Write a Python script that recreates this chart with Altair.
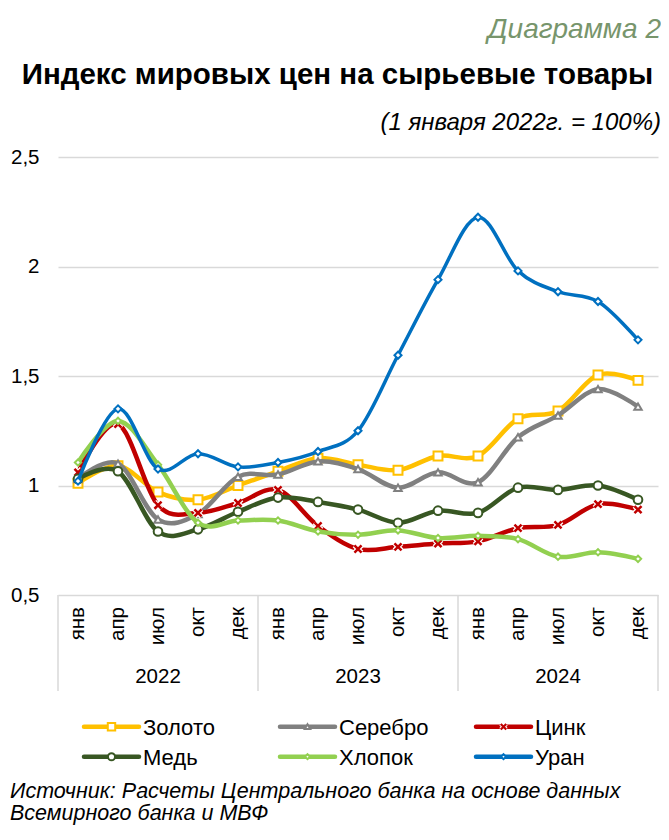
import altair as alt
import pandas as pd

months = ["янв", "апр", "июл", "окт", "дек"]
years = ["2022", "2023", "2024"]

names = ["Золото", "Серебро", "Цинк", "Медь", "Хлопок", "Уран"]
gold = [1.01, 1.09, 0.97, 0.935, 1.00, 1.065, 1.125, 1.095, 1.07, 1.135, 1.135, 1.305, 1.34, 1.505, 1.48]
silver = [1.03, 1.10, 0.845, 0.87, 1.04, 1.05, 1.11, 1.075, 0.99, 1.06, 1.015, 1.22, 1.32, 1.44, 1.36]
zinc = [1.06, 1.28, 0.91, 0.875, 0.92, 0.98, 0.815, 0.71, 0.72, 0.735, 0.745, 0.805, 0.82, 0.915, 0.89]
copper = [1.03, 1.065, 0.79, 0.80, 0.88, 0.945, 0.925, 0.89, 0.83, 0.885, 0.875, 0.99, 0.98, 1.0, 0.935]
cotton = [1.105, 1.295, 1.095, 0.83, 0.84, 0.84, 0.79, 0.775, 0.795, 0.76, 0.77, 0.755, 0.675, 0.695, 0.665]
uranium = [1.02, 1.35, 1.075, 1.145, 1.085, 1.105, 1.155, 1.25, 1.595, 1.94, 2.225, 1.98, 1.885, 1.84, 1.665]
values = [gold, silver, zinc, copper, cotton, uranium]

colors = ["#FFC000", "#808080", "#C00000", "#385723", "#92D050", "#0070C0"]
XPATH = "M-1,-1L1,1M1,-1L-1,1"
shapes = ["square", "triangle-up", XPATH, "circle", "diamond", "diamond"]
msizes = [80, 55, 50, 75, 40, 50]
lwidths = [4.5, 4.5, 4.5, 4.5, 4.5, 3.5]

FONT = "Liberation Sans"
W, H = 600, 438

labels = [f"{y}-{m}" for y in years for m in months]
n = len(labels)

xsc = alt.Scale(domain=[-0.5, n - 0.5], nice=False, zero=False)
ysc = alt.Scale(domain=[0.5, 2.5], nice=False, zero=False)
yaxis = alt.Axis(values=[0.5, 1, 1.5, 2, 2.5], labelExpr="replace(toString(datum.value), '.', ',')",
                 domain=False, ticks=False, grid=True, gridColor="#d9d9d9", gridWidth=1.5,
                 labelFontSize=20.5, labelFont=FONT, labelColor="#000000", labelPadding=19, title=None)

one = alt.Data(values=[{"a": 1}])
layers = []

# separators between years
sep_df = pd.DataFrame({"i": [k * len(months) - 0.5 for k in range(len(years) + 1)]})
layers.append(alt.Chart(sep_df).mark_rule(color="#d9d9d9", strokeWidth=1.5).encode(
    x=alt.X("i:Q", scale=xsc, axis=None), y=alt.value(H), y2=alt.value(H + 96)))

# series
for k, nm in enumerate(names):
    df = pd.DataFrame({"i": list(range(n)), "v": values[k], "s": nm})
    base = alt.Chart(df).encode(
        x=alt.X("i:Q", scale=xsc, axis=None),
        y=alt.Y("v:Q", scale=ysc, axis=yaxis),
    )
    layers.append(base.mark_line(color=colors[k], strokeWidth=lwidths[k], interpolate="cardinal", tension=0))
    if shapes[k] == XPATH:
        layers.append(base.mark_point(shape=XPATH, size=msizes[k], stroke="white", strokeWidth=5, opacity=1))
        layers.append(base.mark_point(shape=XPATH, size=msizes[k], stroke=colors[k], strokeWidth=2.5, opacity=1))
    else:
        layers.append(base.mark_point(shape=shapes[k], size=msizes[k], filled=True, fill="white",
                                      stroke=colors[k], strokeWidth=2, opacity=1))

# month labels
mdf = pd.DataFrame({"i": list(range(n)), "m": [m for y in years for m in months]})
layers.append(alt.Chart(mdf).mark_text(angle=270, align="right", baseline="middle", fontSize=20.5,
                                        font=FONT, color="#000000").encode(
    x=alt.X("i:Q", scale=xsc, axis=None), y=alt.value(H + 12), text="m:N"))

# year labels
ydf = pd.DataFrame({"i": [k * len(months) + (len(months) - 1) / 2 for k in range(len(years))], "y": years})
layers.append(alt.Chart(ydf).mark_text(align="center", baseline="middle", fontSize=20.5,
                                        font=FONT, color="#000000").encode(
    x=alt.X("i:Q", scale=xsc, axis=None), y=alt.value(H + 82), text="y:N"))

# legend
col_x = [26, 222, 418]
row_y = [569.7, 599.7]
LL = 55
for k, nm in enumerate(names):
    cx = col_x[k % 3]
    ry = row_y[k // 3]
    layers.append(alt.Chart(one).mark_rule(color=colors[k], strokeWidth=4.5, strokeCap="round").encode(
        x=alt.value(cx), x2=alt.value(cx + LL), y=alt.value(ry)))
    if shapes[k] == XPATH:
        layers.append(alt.Chart(one).mark_point(shape=XPATH, size=30, stroke="white", strokeWidth=4, opacity=1).encode(
            x=alt.value(cx + LL / 2), y=alt.value(ry)))
        layers.append(alt.Chart(one).mark_point(shape=XPATH, size=30, stroke=colors[k], strokeWidth=2.2, opacity=1).encode(
            x=alt.value(cx + LL / 2), y=alt.value(ry)))
    else:
        layers.append(alt.Chart(one).mark_point(shape=shapes[k], size=max(msizes[k] - 25, 25), filled=True, fill="white",
                                                stroke=colors[k], strokeWidth=2, opacity=1).encode(
            x=alt.value(cx + LL / 2), y=alt.value(ry)))
    layers.append(alt.Chart(one).mark_text(text=nm, align="left", baseline="middle", fontSize=22,
                                           font=FONT, color="#000000").encode(
        x=alt.value(cx + LL + 4), y=alt.value(ry + 1)))

# titles
layers.append(alt.Chart(one).mark_text(text="Диаграмма 2", align="right", baseline="middle", fontSize=28,
                                       font=FONT, fontStyle="italic", color="#77956C").encode(
    x=alt.value(603), y=alt.value(-127)))
layers.append(alt.Chart(one).mark_text(text="Индекс мировых цен на сырьевые товары", align="center",
                                       baseline="middle", fontSize=29.5, font=FONT, fontWeight="bold",
                                       color="#000000").encode(
    x=alt.value(279.5), y=alt.value(-82)))
layers.append(alt.Chart(one).mark_text(text="(1 января 2022г. = 100%)", align="right", baseline="middle",
                                       fontSize=24, font=FONT, fontStyle="italic", color="#000000").encode(
    x=alt.value(603), y=alt.value(-34)))
layers.append(alt.Chart(one).mark_text(text="Источник: Расчеты Центрального банка на основе данных",
                                       align="left", baseline="middle", fontSize=21.5, font=FONT,
                                       fontStyle="italic", color="#000000").encode(
    x=alt.value(-48), y=alt.value(635)))
layers.append(alt.Chart(one).mark_text(text="Всемирного банка и МВФ",
                                       align="left", baseline="middle", fontSize=21.5, font=FONT,
                                       fontStyle="italic", color="#000000").encode(
    x=alt.value(-48), y=alt.value(657)))

chart = alt.layer(*layers).properties(
    width=W, height=H,
    autosize=alt.AutoSizeParams(type="none"),
    padding={"left": 50, "top": 149, "right": 3, "bottom": 233},
    background="white",
).configure_view(stroke=None)

chart.save("out.html", embed_options={"renderer": "svg", "actions": False})
